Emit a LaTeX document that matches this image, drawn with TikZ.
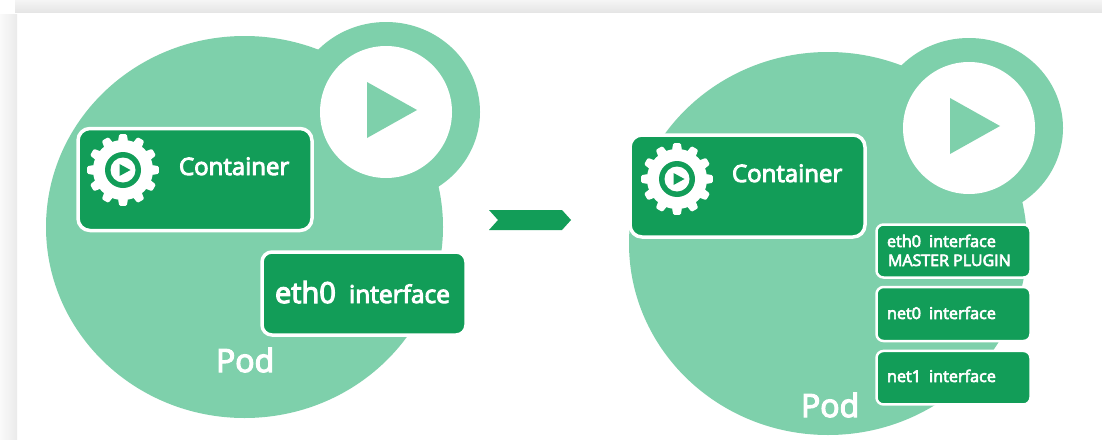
\documentclass[tikz,border=0pt]{standalone}
\usepackage{fontspec}
\setmainfont{Open Sans}[UprightFeatures={FakeBold=4}]
\usetikzlibrary{shadings}
\definecolor{podc}{HTML}{7ED0AB}
\definecolor{boxc}{HTML}{129D58}
\newcommand{\fs}[1]{\fontsize{#1}{#1}\selectfont}
\tikzset{
  podshape/.style={fill=podc,draw=none},
  holeshape/.style={fill=white,draw=none},
  greenbox/.style={fill=boxc,draw=white,line width=3.5pt,rounded corners=12pt},
  smallbox/.style={fill=boxc,draw=white,line width=2.5pt,rounded corners=7pt},
  lbl/.style={anchor=base west,inner sep=0pt,outer sep=0pt,text=white},
  pics/gear/.style={code={
    \fill[white,rounded corners=1.2pt]
      \foreach \a in {0,30,...,330}{
        (\a-10:29) -- (\a-6:36) -- (\a+6:36) -- (\a+10:29) -- cycle
      };
    \fill[white] (0,0) circle[radius=30];
    \fill[boxc] (0,0) circle[radius=18];
    \fill[white] (0,0) circle[radius=12.5];
    \fill[boxc] (-3.5,-6) -- (7.5,0) -- (-3.5,6) -- cycle;
  }}
}
\begin{document}
\begin{tikzpicture}[x=1pt,y=-1pt]
\useasboundingbox (0,0) rectangle (1102,439);
\fill[white] (0,0) rectangle (1102,439);
% page chrome
\shade[top color=white!96!black,bottom color=white!90!black,draw=none] (15,0) rectangle (1102,12);
\shade[left color=white!98!black,right color=white!92!black,draw=none] (0,14) rectangle (17,439);
% left pod
\fill[podshape] (244.5,227) ellipse[x radius=198.5,y radius=191];
\fill[podshape] (386,112) ellipse[x radius=94,y radius=90];
\node[holeshape,circle,minimum size=132pt,inner sep=0pt] (holeL) at (386,112) {};
\fill[podc] (367,82) -- (417,110) -- (367,138) -- cycle;
\node[greenbox,minimum width=234pt,minimum height=102pt,inner sep=0pt] (contL) at (195,179.5) {};
\pic at (123,170) {gear};
\node[lbl] (contLt) at (179,175) {\fs{24}Container};
\node[greenbox,rounded corners=10pt,minimum width=204pt,minimum height=83pt,inner sep=0pt] (ethL) at (364,293.5) {};
\node[lbl] (ethLa) at (275,303) {\fs{29}eth0};
\node[lbl] (ethLb) at (349,303) {\fs{24.5}interface};
\node[lbl] (podL) at (216,372) {\fs{32}Pod};
% arrow
\fill[boxc] (489,210) -- (562,210) -- (571,220) -- (562,230) -- (489,230) -- (498,220) -- cycle;
% right pod
\fill[podshape] (828,243.5) ellipse[x radius=199,y radius=191.5];
\fill[podshape] (969,128) ellipse[x radius=94,y radius=90];
\node[holeshape,circle,minimum size=132pt,inner sep=0pt] (holeR) at (969,128) {};
\fill[podc] (950,98) -- (1000,126) -- (950,154) -- cycle;
\node[greenbox,minimum width=235pt,minimum height=102pt,inner sep=0pt] (contR) at (747.5,186) {};
\pic at (677,179) {gear};
\node[lbl] (contRt) at (732,182) {\fs{24}Container};
\node[smallbox,minimum width=154pt,minimum height=53pt,inner sep=0pt] (ethR) at (953.5,251) {};
\node[smallbox,minimum width=154pt,minimum height=54pt,inner sep=0pt] (netA) at (953.5,314) {};
\node[smallbox,minimum width=154pt,minimum height=53.5pt,inner sep=0pt] (netB) at (953.5,377.7) {};
\node[lbl] (ethRa) at (887,247) {\fs{16.2}eth0\hspace{0.5em}interface};
\node[lbl] (ethRb) at (888,266) {\fs{16}MASTER PLUGIN};
\node[lbl] (netAt) at (887,319) {\fs{16.2}net0\hspace{0.5em}interface};
\node[lbl] (netBt) at (887,382) {\fs{16.2}net1\hspace{0.5em}interface};
\node[lbl] (podR) at (801,417) {\fs{32}Pod};
\end{tikzpicture}
\end{document}
